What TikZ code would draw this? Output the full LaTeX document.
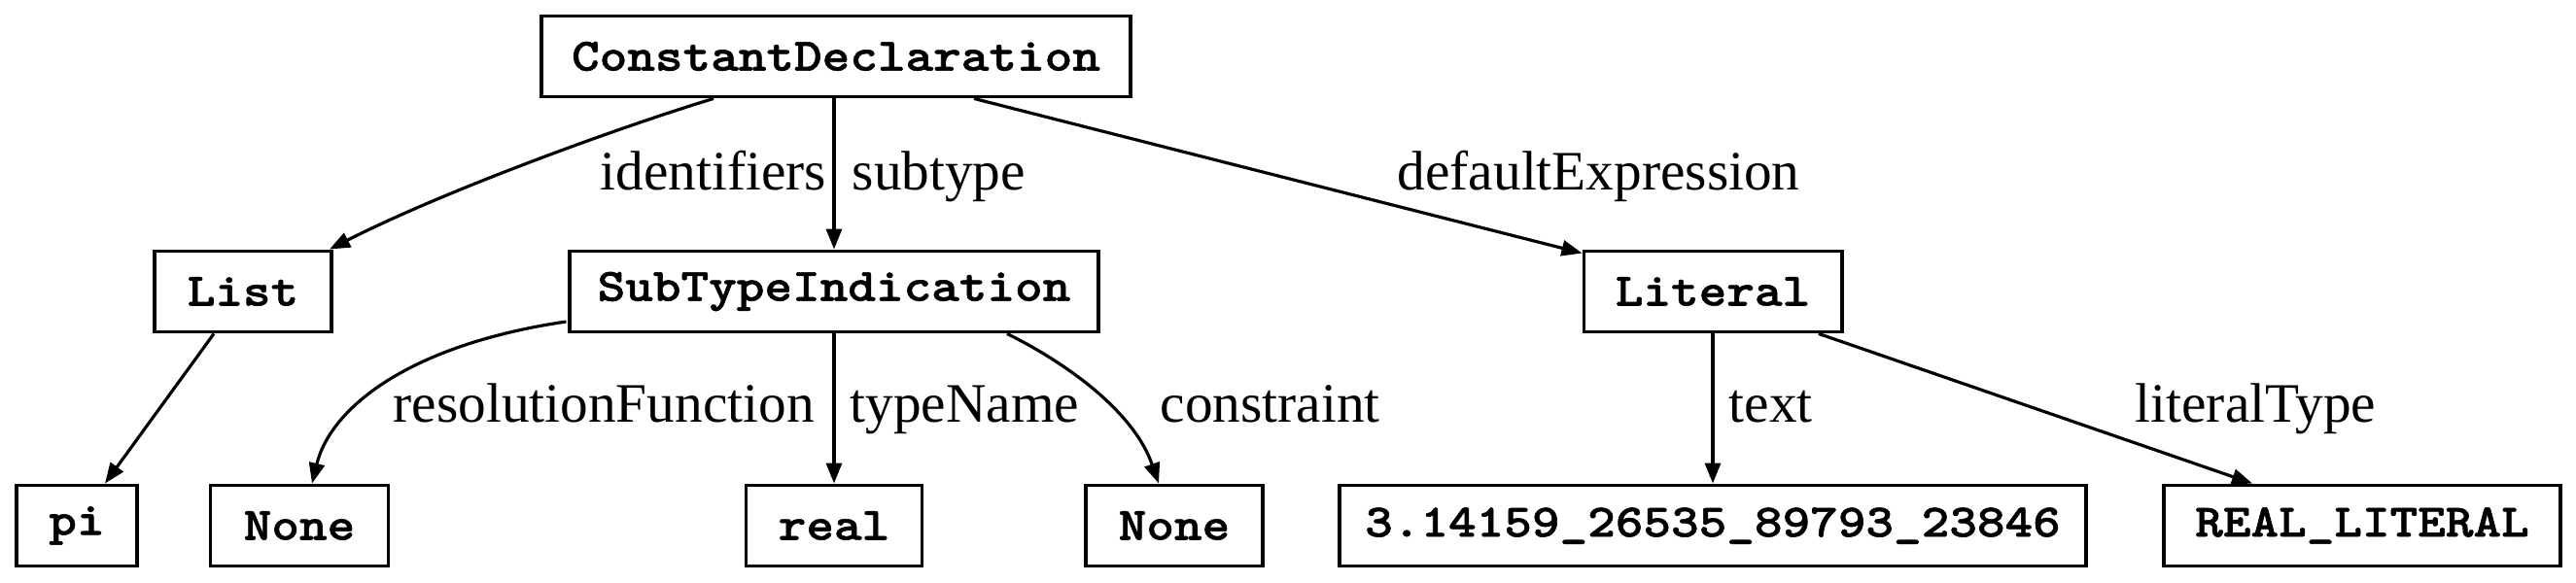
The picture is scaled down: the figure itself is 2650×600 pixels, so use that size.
\documentclass[tikz,border=0pt]{standalone}
\usepackage{fontspec}
\setmainfont{Liberation Serif}
\setmonofont{Latin Modern Mono Light}[FakeStretch=1.14,BoldFeatures={FakeBold=1.2}]
\usetikzlibrary{arrows.meta,calc}
\begin{document}
\begin{tikzpicture}[x=0.01cm,y=-0.01cm,
  box/.style={draw,line width=1.1pt,inner sep=0pt,minimum height=0.83cm,
    font=\fontsize{13.6}{15}\selectfont\ttfamily\bfseries},
  edge/.style={line width=0.9pt,-{Triangle[length=0.21cm,width=0.16cm]}},
  lab/.style={anchor=base west,inner sep=0pt,font=\fontsize{16.3}{18}\selectfont}]
\useasboundingbox (0,0) rectangle (2650,600);
\node[box,minimum width=6.05cm] (cd) at (860,58) {ConstantDeclaration};
\node[box,minimum width=1.82cm] (list) at (250,300) {List};
\node[box,minimum width=5.43cm] (sti) at (858,300) {SubTypeIndication};
\node[box,minimum width=2.65cm] (lit) at (1762,300) {Literal};
\node[box,minimum width=1.24cm] (pi) at (79,541) {pi};
\node[box,minimum width=1.83cm] (none1) at (308,541) {None};
\node[box,minimum width=1.81cm] (real) at (858,541) {real};
\node[box,minimum width=1.82cm] (none2) at (1208,541) {None};
\node[box,minimum width=7.68cm] (num) at (1762,541) {3.14159\_26535\_89793\_23846};
\node[box,minimum width=4.08cm] (rl) at (2430,541) {REAL\_LITERAL};
% edges
\draw[edge] ($(cd.south)+(-126,0)$) .. controls (640,130) and (460,195) .. ($(list.north)+(89,0)$);
\draw[edge] (cd.south -| sti.north) -- (sti.north);
\draw[edge] ($(cd.south)+(142,0)$) -- ($(lit.north west)+(0,4)$);
\draw[edge] ($(list.south)+(-30,0)$) -- ($(pi.north)+(29,0)$);
\draw[edge] ($(sti.west)+(-2,31)$) .. controls (420,355) and (340,420) .. ($(none1.north)+(13,0)$);
\draw[edge] (sti.south) -- (real.north);
\draw[edge] ($(sti.south)+(178,0)$) .. controls (1090,370) and (1165,420) .. ($(none2.north)+(-16,0)$);
\draw[edge] (lit.south) -- (num.north);
\draw[edge] ($(lit.south)+(109,0)$) -- ($(rl.north)+(-113,0)$);
% labels
\node[lab] (l1) at (617,195) {identifiers};
\node[lab] (l2) at (876,195) {subtype};
\node[lab] (l3) at (1437,195) {defaultExpression};
\node[lab] (l4) at (404,434) {resolutionFunction};
\node[lab] (l5) at (874,434) {typeName};
\node[lab] (l6) at (1193,434) {constraint};
\node[lab] (l7) at (1778,434) {text};
\node[lab] (l8) at (2196,434) {literalType};
\end{tikzpicture}
\end{document}
